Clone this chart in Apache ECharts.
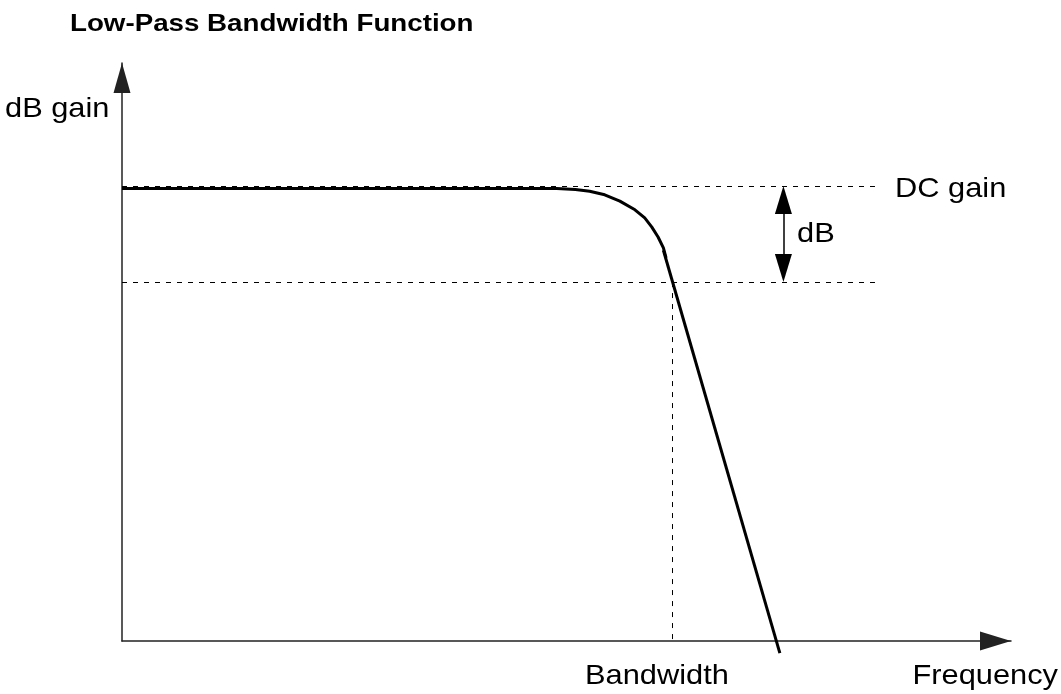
<!DOCTYPE html>
<html>
<head>
<meta charset="utf-8">
<script src="https://cdn.jsdelivr.net/npm/echarts@6/dist/echarts.min.js"></script>
<style>html,body{margin:0;padding:0;background:#fff}#c{width:1061px;height:694px}</style>
</head>
<body>
<div id="c"></div>
<script>
// Pass-band and knee of the response (frequency units, gain units)
const kneeFreq = [0, 48.9, 51.0, 52.6, 54.3, 56.0, 57.7, 58.8, 59.6, 60.3, 60.9, 61.2];
const kneeGain = [78.3, 78.3, 78.1, 77.8, 77.2, 76.1, 74.6, 73.2, 71.6, 69.9, 68.0, 66.3];
// Roll-off straight line
const rollFreq = [60.9, 74.0];
const rollGain = [67.6, -2.1];
const dcGain = 78.7;          // DC gain level
const cutoffGain = 62.1;      // DC gain minus dB
const bandwidth = 61.9;       // frequency at cutoff
const refLineEnd = 84.7;      // end of the horizontal reference lines
const dbArrowFreq = 74.4;     // position of the dB double arrow
const labels = {title: 'Low-Pass Bandwidth Function', yName: 'dB gain', xName: 'Frequency', dc: 'DC gain', db: 'dB', bw: 'Bandwidth'};

const FONT = '"Liberation Sans", Arial, Helvetica, sans-serif';
const chart = echarts.init(document.getElementById('c'), null, {renderer: 'canvas'});
const dash = {color: '#000', width: 1, type: [5, 6]};
const Y_PX_PER_UNIT = (694 - 63 - 53) / 100;
const arrowH = 28;
const arrowInset = (arrowH / 2) / Y_PX_PER_UNIT;

function txt(text, x, y, size, opts) {
  opts = opts || {};
  return {
    type: 'text', x: x, y: y, scaleX: opts.scaleX || 1.1, silent: true,
    style: {text: text, font: (opts.bold ? 'bold ' : '') + size + 'px ' + FONT, fill: '#000', align: opts.align || 'left', verticalAlign: 'top'}
  };
}

const axisCommon = {
  type: 'value', min: 0, max: 100,
  axisTick: {show: false}, axisLabel: {show: false}, splitLine: {show: false}
};

chart.setOption({
  animation: false,
  backgroundColor: '#fff',
  grid: {left: 122, right: 50, top: 63, bottom: 53, outerBoundsMode: 'none'},
  xAxis: Object.assign({}, axisCommon, {
    axisLine: {show: true, onZero: true, symbol: ['none', 'triangle'], symbolSize: [19, 31], symbolOffset: [0, -15.5], lineStyle: {color: '#222', width: 1.5}}
  }),
  yAxis: Object.assign({}, axisCommon, {
    axisLine: {show: true, onZero: true, symbol: ['none', 'triangle'], symbolSize: [17, 30], symbolOffset: [0, -15], lineStyle: {color: '#222', width: 1.5}}
  }),
  series: [
    {
      type: 'line', clip: false, symbol: 'none', smooth: false,
      data: kneeFreq.map((f, i) => [f, kneeGain[i]]),
      lineStyle: {color: '#000', width: 3, join: 'round'},
      markLine: {
        silent: true, symbol: 'none', animation: false,
        lineStyle: dash,
        label: {show: false},
        data: [
          [{coord: [0, dcGain]}, {coord: [refLineEnd, dcGain]}],
          [{coord: [0, cutoffGain]}, {coord: [refLineEnd, cutoffGain]}],
          [{coord: [bandwidth, cutoffGain]}, {coord: [bandwidth, 0]}],
          [{coord: [dbArrowFreq, dcGain - arrowInset], symbol: 'triangle', symbolSize: [17, arrowH], lineStyle: {type: 'solid', width: 1.5, color: '#000'}},
           {coord: [dbArrowFreq, cutoffGain + arrowInset], symbol: 'triangle', symbolSize: [17, arrowH]}]
        ]
      }
    },
    {
      type: 'line', clip: false, symbol: 'none',
      data: rollFreq.map((f, i) => [f, rollGain[i]]),
      lineStyle: {color: '#000', width: 3}
    }
  ],
  graphic: [
    txt(labels.title, 70, 12, 24, {bold: true, scaleX: 1.155}),
    txt(labels.yName, 5, 95, 28),
    txt(labels.dc, 895, 175, 28),
    txt(labels.db, 797, 220, 28),
    txt(labels.bw, 585, 662, 28),
    txt(labels.xName, 1058, 662, 28, {align: 'right'})
  ]
});
</script>
</body>
</html>
